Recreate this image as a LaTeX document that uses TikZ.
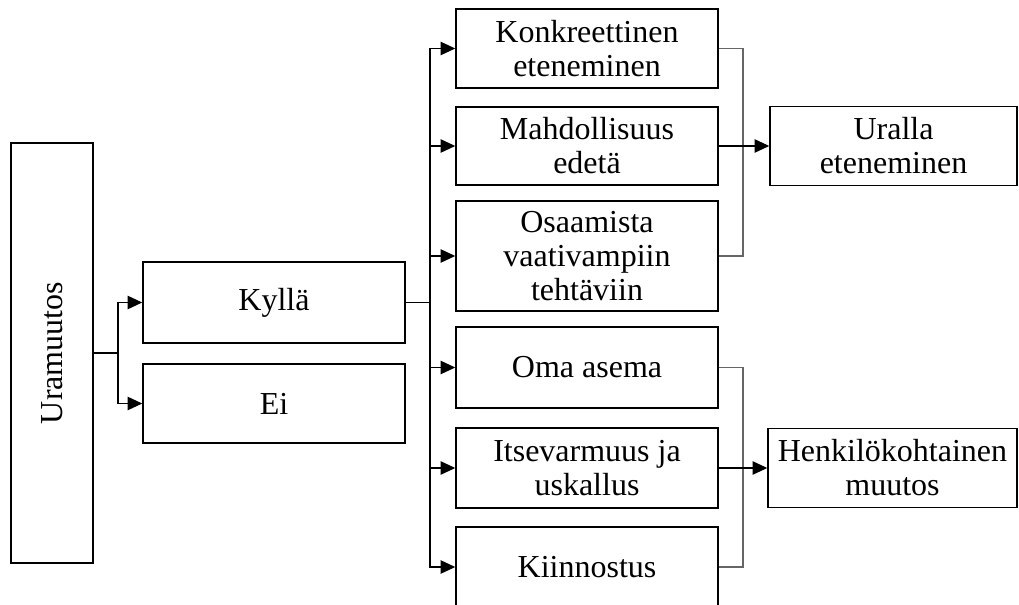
\documentclass[tikz,border=0pt]{standalone}
\usepackage{fontspec}
\setmainfont{Liberation Serif}
\usetikzlibrary{arrows.meta}
\tikzset{
  box/.style={draw=black, line width=1.1pt, rectangle, inner sep=0pt, align=center,
              font=\fontsize{24pt}{25.5pt}\selectfont},
  wh/.style 2 args={minimum width=#1*0.75pt, minimum height=#2*0.75pt},
  conn/.style={draw=black, line width=1.1pt},
  arr/.style={conn, -{Triangle[length=11pt, width=10pt]}},
  brk/.style={draw=black!60, line width=1.1pt},
}
\begin{document}
\begin{tikzpicture}[x=0.75pt, y=-0.75pt]
\useasboundingbox (0,0) rectangle (1019,605);
\clip (0,0) rectangle (1019,605);
% nodes
\node[box, wh={82}{420}] (ura) at (52,353) {\rotatebox{90}{Uramuutos}};
\node[box, wh={262}{81}] (kylla) at (274,302.5) {Kyllä};
\node[box, wh={262}{79}] (ei) at (274,403.5) {Ei};
\node[box, wh={262}{79}] (konk) at (587,48.5) {Konkreettinen\\eteneminen};
\node[box, wh={262}{78}] (mahd) at (587,146) {Mahdollisuus\\edetä};
\node[box, wh={262}{110}] (osaa) at (587,256) {Osaamista\\vaativampiin\\tehtäviin};
\node[box, wh={262}{81}] (oma) at (587,367.5) {Oma asema};
\node[box, wh={262}{80}] (itse) at (587,468) {Itsevarmuus ja\\uskallus};
\node[box, wh={262}{80}] (kiin) at (587,567) {Kiinnostus};
\node[box, wh={247}{79}] (uralla) at (893.5,146) {Uralla\\eteneminen};
\node[box, wh={249}{79}] (henk) at (892.5,468) {Henkilökohtainen\\muutos};
% junctions
\coordinate (j1) at (118,353);
\coordinate (j2) at (430,302.5);
\coordinate (b1) at (743,146);
\coordinate (b2) at (743,468);
% connectors
\draw[conn] (ura.east) -- (j1);
\draw[arr] (j1) |- (kylla.west);
\draw[arr] (j1) |- (ei.west);
\draw[conn] (kylla.east) -- (j2);
\draw[arr] (j2) |- (konk.west);
\draw[arr] (j2) |- (mahd.west);
\draw[arr] (j2) |- (osaa.west);
\draw[arr] (j2) |- (oma.west);
\draw[arr] (j2) |- (itse.west);
\draw[arr] (j2) |- (kiin.west);
\draw[brk] (konk.east) -| (b1);
\draw[brk] (osaa.east) -| (b1);
\draw[arr] (mahd.east) -- (uralla.west);
\draw[brk] (oma.east) -| (b2);
\draw[brk] (kiin.east) -| (b2);
\draw[arr] (itse.east) -- (henk.west);
\end{tikzpicture}
\end{document}
